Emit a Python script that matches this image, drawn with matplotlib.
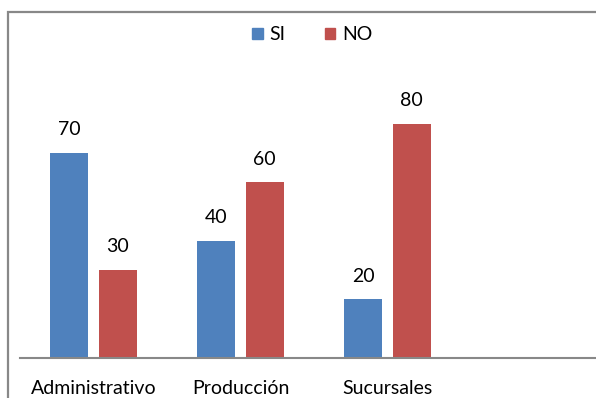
import numpy as np
import matplotlib.pyplot as plt
from matplotlib.patches import Rectangle, Patch

plt.rcParams['font.family'] = ['Lato', 'DejaVu Sans']

categories = ['Administrativo', 'Producción', 'Sucursales']
si_values = [70, 40, 20]
no_values = [30, 60, 80]

blue = '#4f81bd'
red = '#c0504d'

fig = plt.figure(figsize=(5.96, 3.98), dpi=100)
W, H = 596, 398

# outer frame, running off the right and bottom edges
fig.patches.append(Rectangle((8 / W, -0.1), 1.2, (H - 12) / H + 0.1,
                             transform=fig.transFigure, fill=False,
                             edgecolor='#888888', linewidth=1.6))

ax = fig.add_axes([20 / W, 40 / H, 588 / W, 293 / H])
x = np.arange(len(categories))
width = 0.26
b1 = ax.bar(x - 0.165, si_values, width, color=blue)
b2 = ax.bar(x + 0.165, no_values, width, color=red)

for bars, vals in ((b1, si_values), (b2, no_values)):
    for bar, v in zip(bars, vals):
        ax.text(bar.get_x() + bar.get_width() / 2, v + 5, str(v),
                ha='center', va='bottom', fontsize=14)

ax.set_xlim(-0.5, 3.5)
ax.set_ylim(0, 100)
ax.set_xticks(x)
ax.set_xticklabels(categories, fontsize=14)
ax.tick_params(axis='x', length=0, pad=16)
ax.set_yticks([])
for side in ('top', 'right', 'left'):
    ax.spines[side].set_visible(False)
ax.spines['bottom'].set_color('#888888')
ax.spines['bottom'].set_linewidth(1.5)

handles = [Patch(color=blue, label='SI'), Patch(color=red, label='NO')]
fig.legend(handles=handles, loc='center', bbox_to_anchor=(0.524, 1 - 35 / H),
           ncol=2, frameon=False, fontsize=14, handlelength=0.55,
           handleheight=0.55, handletextpad=0.35, columnspacing=2.0)

fig.savefig('out.png', dpi=100)
